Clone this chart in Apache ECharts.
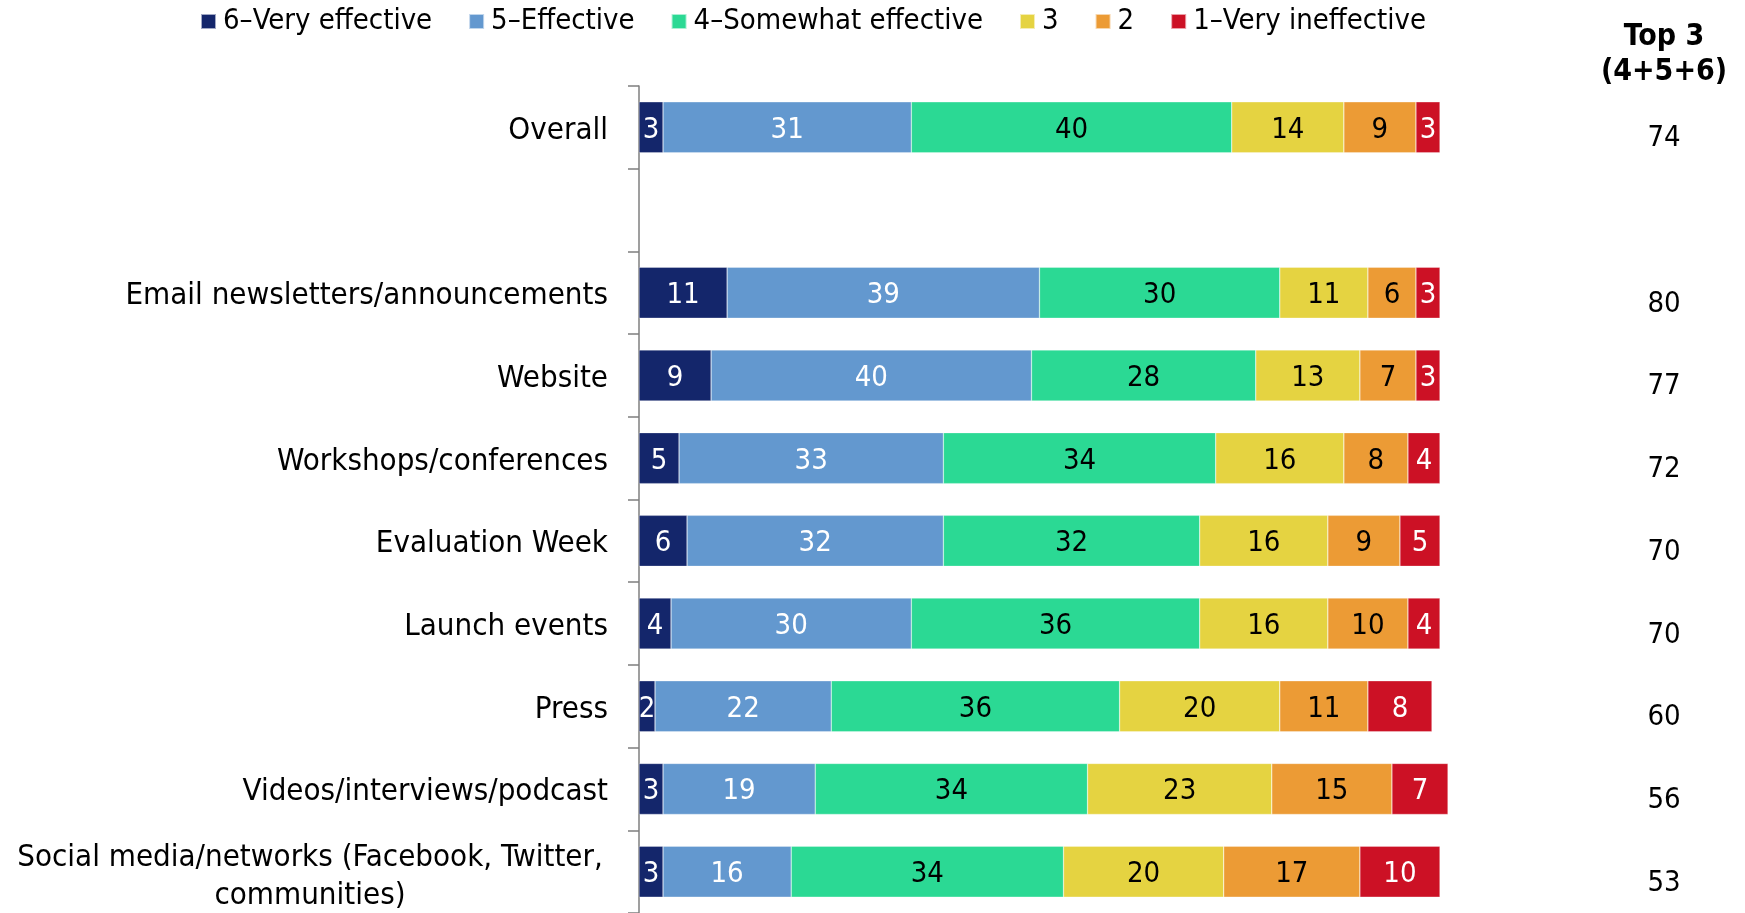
<!DOCTYPE html>
<html><head><meta charset="utf-8">
<script src="https://cdn.jsdelivr.net/npm/echarts@6/dist/echarts.min.js"></script>
<style>html,body{margin:0;padding:0;background:#fff}#c{width:1745px;height:913px}</style>
</head><body><div id="c"></div>
<script>
const categories = ['Overall', '', 'Email newsletters/announcements', 'Website', 'Workshops/conferences', 'Evaluation Week', 'Launch events', 'Press', 'Videos/interviews/podcast', 'Social media/networks (Facebook, Twitter,\ncommunities)'];
const seriesNames = ['6–Very effective', '5–Effective', '4–Somewhat effective', '3', '2', '1–Very ineffective'];
const v6 = [3, null, 11, 9, 5, 6, 4, 2, 3, 3];
const v5 = [31, null, 39, 40, 33, 32, 30, 22, 19, 16];
const v4 = [40, null, 30, 28, 34, 32, 36, 36, 34, 34];
const v3 = [14, null, 11, 13, 16, 16, 16, 20, 23, 20];
const v2 = [9, null, 6, 7, 8, 9, 10, 11, 15, 17];
const v1 = [3, null, 3, 3, 4, 5, 4, 8, 7, 10];
const top3 = ['74', '', '80', '77', '72', '70', '70', '60', '56', '53'];
const top3Header = 'Top 3\n(4+5+6)';

const FONT = 'Tahoma, "DejaVu Sans Condensed", "DejaVu Sans", sans-serif';
const colors = ['#14266b', '#6398cf', '#2bd994', '#e5d341', '#ec9b35', '#cc1125'];
const labelColors = ['#fff', '#fff', '#000', '#000', '#000', '#fff'];
const values = [v6, v5, v4, v3, v2, v1];

const chart = echarts.init(document.getElementById('c'), null, {renderer: 'canvas'});
chart.setOption({
  animation: false,
  textStyle: {fontFamily: FONT},
  color: colors,
  legend: {
    left: 195, top: 2,
    itemWidth: 15, itemHeight: 15, itemGap: 36,
    icon: 'rect',
    textStyle: {fontFamily: FONT, fontSize: 29, color: '#000', padding: [0, 0, 0, 2]},
    data: seriesNames
  },
  graphic: [{
    type: 'text', x: 1664, y: 20,
    style: {text: top3Header, font: 'bold 30px ' + FONT, fill: '#000', textAlign: 'center', lineHeight: 35}
  }],
  grid: {left: 639, top: 86, width: 809, height: 833, containLabel: false},
  xAxis: {type: 'value', min: 0, max: 101, show: false},
  yAxis: [{
    type: 'category', inverse: true, data: categories,
    axisLine: {show: true, lineStyle: {color: '#7f7f7f', width: 1.5}},
    axisTick: {show: true, length: 11, lineStyle: {color: '#7f7f7f', width: 1.5}},
    axisLabel: {
      fontSize: 31, color: '#000', fontFamily: FONT, margin: 31,
      formatter: function (v) {
        if (!v) return '';
        const lines = v.split('\n');
        if (lines.length > 1) {
          return lines.map((s, k) => (k === 0 ? '{f|' : '{c|') + s + '}').join('\n');
        }
        return '{s|' + v + '}';
      },
      rich: {
        s: {fontSize: 31, fontFamily: FONT, color: '#000', padding: [7, 0, 0, 0]},
        f: {width: 596, align: 'center', fontSize: 31, fontFamily: FONT, color: '#000', lineHeight: 38, padding: [11, 0, 0, 0]},
        c: {width: 596, align: 'center', fontSize: 31, fontFamily: FONT, color: '#000', lineHeight: 38, padding: [11, 0, 0, 0]}
      }
    }
  }, {
    type: 'category', inverse: true, data: top3, position: 'right',
    axisLine: {show: false}, axisTick: {show: false},
    axisLabel: {fontSize: 29, color: '#000', fontFamily: FONT, margin: 216, align: 'center', verticalAlign: 'top', lineHeight: 23}
  }],
  series: values.map((arr, i) => ({
    name: seriesNames[i], type: 'bar', stack: 'all', yAxisIndex: 0,
    barWidth: 51,
    data: arr,
    itemStyle: {color: colors[i], borderColor: 'rgba(255,255,255,0.6)', borderWidth: 0.5},
    label: {show: true, position: 'inside', color: labelColors[i], fontSize: 29, fontFamily: FONT, offset: [0, 3],
      formatter: p => (p.value == null ? '' : String(p.value))}
  }))
});
</script></body></html>
